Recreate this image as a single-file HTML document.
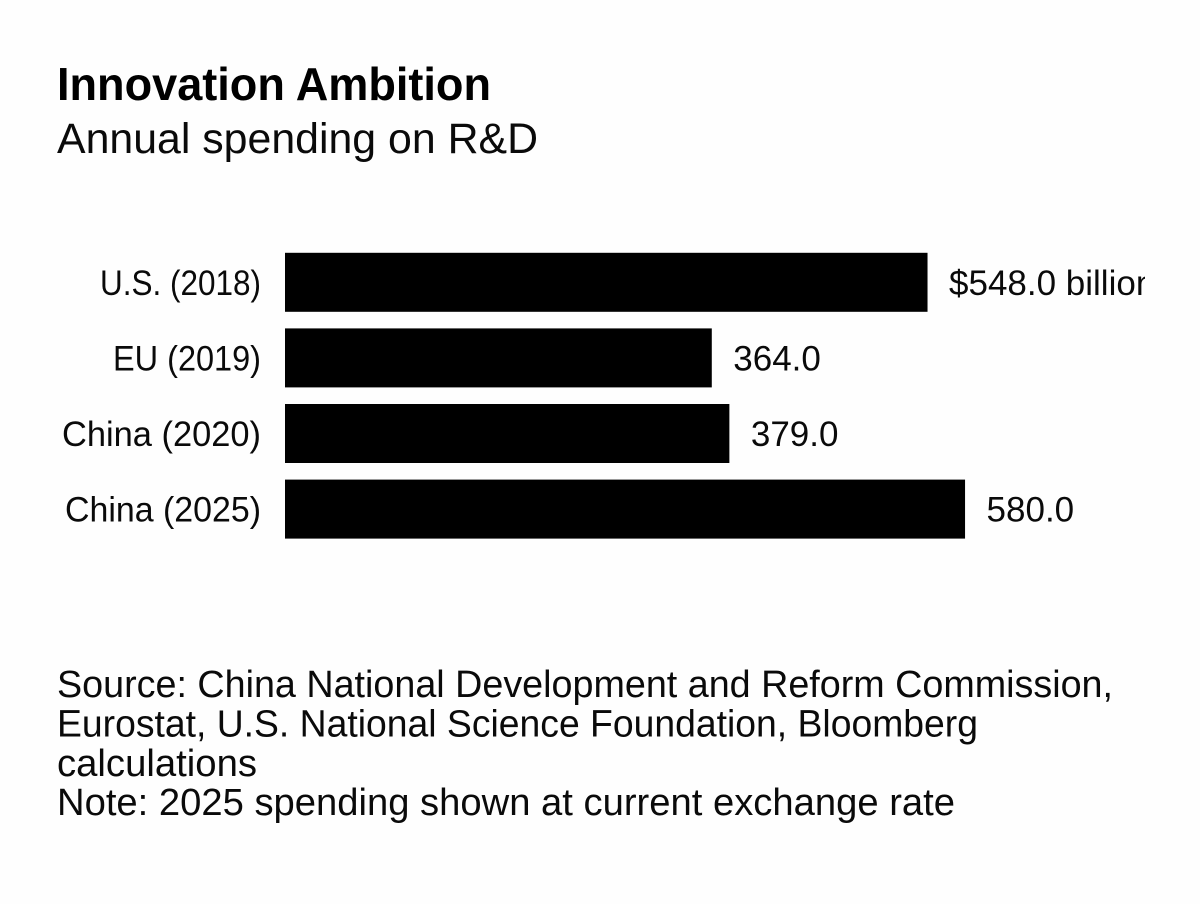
<!DOCTYPE html>
<html lang="en">
<head>
<meta charset="utf-8">
<title>Innovation Ambition</title>
<style>
html,body{margin:0;padding:0;background:#fff;width:1200px;height:904px;overflow:hidden}
svg{display:block}
text{font-family:"Liberation Sans",sans-serif;fill:#0a0a0a}
</style>
</head>
<body>
<svg id="chart" xmlns="http://www.w3.org/2000/svg" width="1200" height="904" viewBox="0 0 1200 904">
  <defs><clipPath id="edge"><rect x="0" y="0" width="1145" height="904"/></clipPath></defs>
  <rect x="0" y="0" width="1200" height="904" fill="#fefefe"/>
  <text x="57" y="100" font-size="46" font-weight="700" textLength="434" lengthAdjust="spacingAndGlyphs" style="fill:#000">Innovation Ambition</text>
  <text x="57" y="153" font-size="43" textLength="481" lengthAdjust="spacingAndGlyphs">Annual spending on R&amp;D</text>
  <g id="plot"></g>
  <g font-size="38">
    <text x="57" y="697" textLength="1056" lengthAdjust="spacingAndGlyphs">Source: China National Development and Reform Commission,</text>
    <text x="57" y="736.5" textLength="921" lengthAdjust="spacingAndGlyphs">Eurostat, U.S. National Science Foundation, Bloomberg</text>
    <text x="57" y="776" textLength="200" lengthAdjust="spacingAndGlyphs">calculations</text>
    <text x="57" y="815" textLength="898" lengthAdjust="spacingAndGlyphs">Note: 2025 spending shown at current exchange rate</text>
  </g>
</svg>
<script>
const categories = ["U.S. (2018)", "EU (2019)", "China (2020)", "China (2025)"];
const values = [548, 364, 379, 580];
const valueLabels = ["$548.0 billion", "364.0", "379.0", "580.0"];

const NS = "http://www.w3.org/2000/svg";
const plot = document.getElementById("plot");
const xScale = function (v) { return 285 + v * 1.1725; };
const yScale = function (i) { return 252.8 + i * 75.6; };
const barHeight = 59;
const fitCategoryLabel = function (name) {
  if (name.indexOf("U.S.") === 0) return 161;
  if (name.indexOf("EU") === 0) return 148;
  return name.indexOf("2020") >= 0 ? 199 : 196;
};

categories.forEach(function (cat, i) {
  const cy = yScale(i) + barHeight / 2;

  const label = document.createElementNS(NS, "text");
  
  
  const w = fitCategoryLabel(cat);
  label.setAttribute("x", 261 - w);
  label.setAttribute("y", cy + 12.5);
  label.setAttribute("font-size", 35);
  label.setAttribute("textLength", w);
  label.setAttribute("lengthAdjust", "spacingAndGlyphs");
  label.textContent = cat;
  plot.appendChild(label);

  const bar = document.createElementNS(NS, "rect");
  
  
  bar.setAttribute("x", xScale(0));
  bar.setAttribute("y", yScale(i));
  bar.setAttribute("width", xScale(values[i]) - xScale(0));
  bar.setAttribute("height", barHeight);
  bar.setAttribute("fill", "#000");
  plot.appendChild(bar);

  const val = document.createElementNS(NS, "text");
  
  
  val.setAttribute("x", xScale(values[i]) + 21.5);
  val.setAttribute("y", cy + 12.5);
  val.setAttribute("font-size", 35);
  val.setAttribute("clip-path", "url(#edge)");
  val.textContent = valueLabels[i];
  plot.appendChild(val);
});
</script>
</body>
</html>
